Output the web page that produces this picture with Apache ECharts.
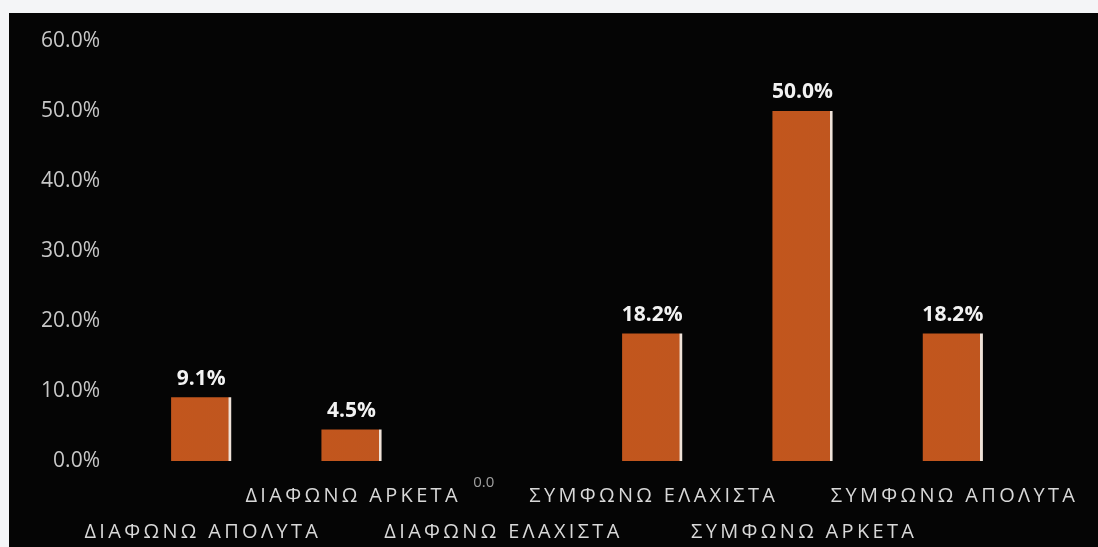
<!DOCTYPE html>
<html>
<head>
<meta charset="utf-8">
<script src="https://cdn.jsdelivr.net/npm/echarts@6/dist/echarts.min.js"></script>
<style>
  html, body { margin: 0; padding: 0; background: #f4f5f7; }
  #chart {
    position: absolute;
    left: 9px;
    top: 13px;
    width: 1089px;
    height: 534px;
    background: #050505;
  }
</style>
</head>
<body>
<div id="chart"></div>
<script>
// answers on the agree / disagree scale
const categories = ['ΔΙΑΦΩΝΩ ΑΠΟΛΥΤΑ', 'ΔΙΑΦΩΝΩ ΑΡΚΕΤΑ', 'ΔΙΑΦΩΝΩ ΕΛΑΧΙΣΤΑ',
                    'ΣΥΜΦΩΝΩ ΕΛΑΧΙΣΤΑ', 'ΣΥΜΦΩΝΩ ΑΡΚΕΤΑ', 'ΣΥΜΦΩΝΩ ΑΠΟΛΥΤΑ']
const percents = [9.1, 4.5, 0, 18.2, 50.0, 18.2]
const yTicks = [0, 10, 20, 30, 40, 50, 60]

const barFill = new echarts.graphic.LinearGradient(0, 0, 1, 0, [
  { offset: 0, color: '#c2561d' },
  { offset: 0.95, color: '#c0561f' },
  { offset: 0.96, color: '#efe2d8' },
  { offset: 1, color: '#efe2d8' }
])

// spread the letters a bit, like the scanned labels
const spaced = s => s.split('').join('\u2009')

const chart = echarts.init(document.getElementById('chart'))
chart.setOption({
  animation: false,
  textStyle: { fontFamily: 'Open Sans' },
  grid: { left: 117, right: 70, top: 28, bottom: 86, outerBoundsMode: 'none' },
  xAxis: {
    type: 'category',
    data: categories,
    axisLine: { show: false },
    axisTick: { show: false },
    axisLabel: {
      interval: 0,
      margin: 17,
      color: '#d8d8d8',
      fontSize: 20,
      lineHeight: 36,
      formatter: (v, i) => (i % 2 === 0 ? '\n' : '') + spaced(v)
    }
  },
  yAxis: {
    type: 'value',
    min: yTicks[0],
    max: yTicks[yTicks.length - 1],
    interval: 10,
    splitLine: { show: false },
    axisLine: { show: false },
    axisLabel: {
      margin: 26,
      color: '#c8c8c8',
      fontSize: 21,
      formatter: v => v.toFixed(1) + '%'
    }
  },
  series: [{
    type: 'bar',
    barWidth: '40%',
    itemStyle: { color: barFill },
    label: {
      show: true,
      position: 'top',
      distance: 8,
      color: '#f2f2f2',
      fontSize: 21,
      fontWeight: 'bold',
      formatter: p => p.value.toFixed(1) + '%'
    },
    data: percents.map(v => v === 0
      ? { value: v, label: { position: 'bottom', offset: [-18, 6], fontSize: 15, fontWeight: 'normal', color: '#a0a0a0', formatter: '0.0' } }
      : v)
  }]
})
</script>
</body>
</html>
